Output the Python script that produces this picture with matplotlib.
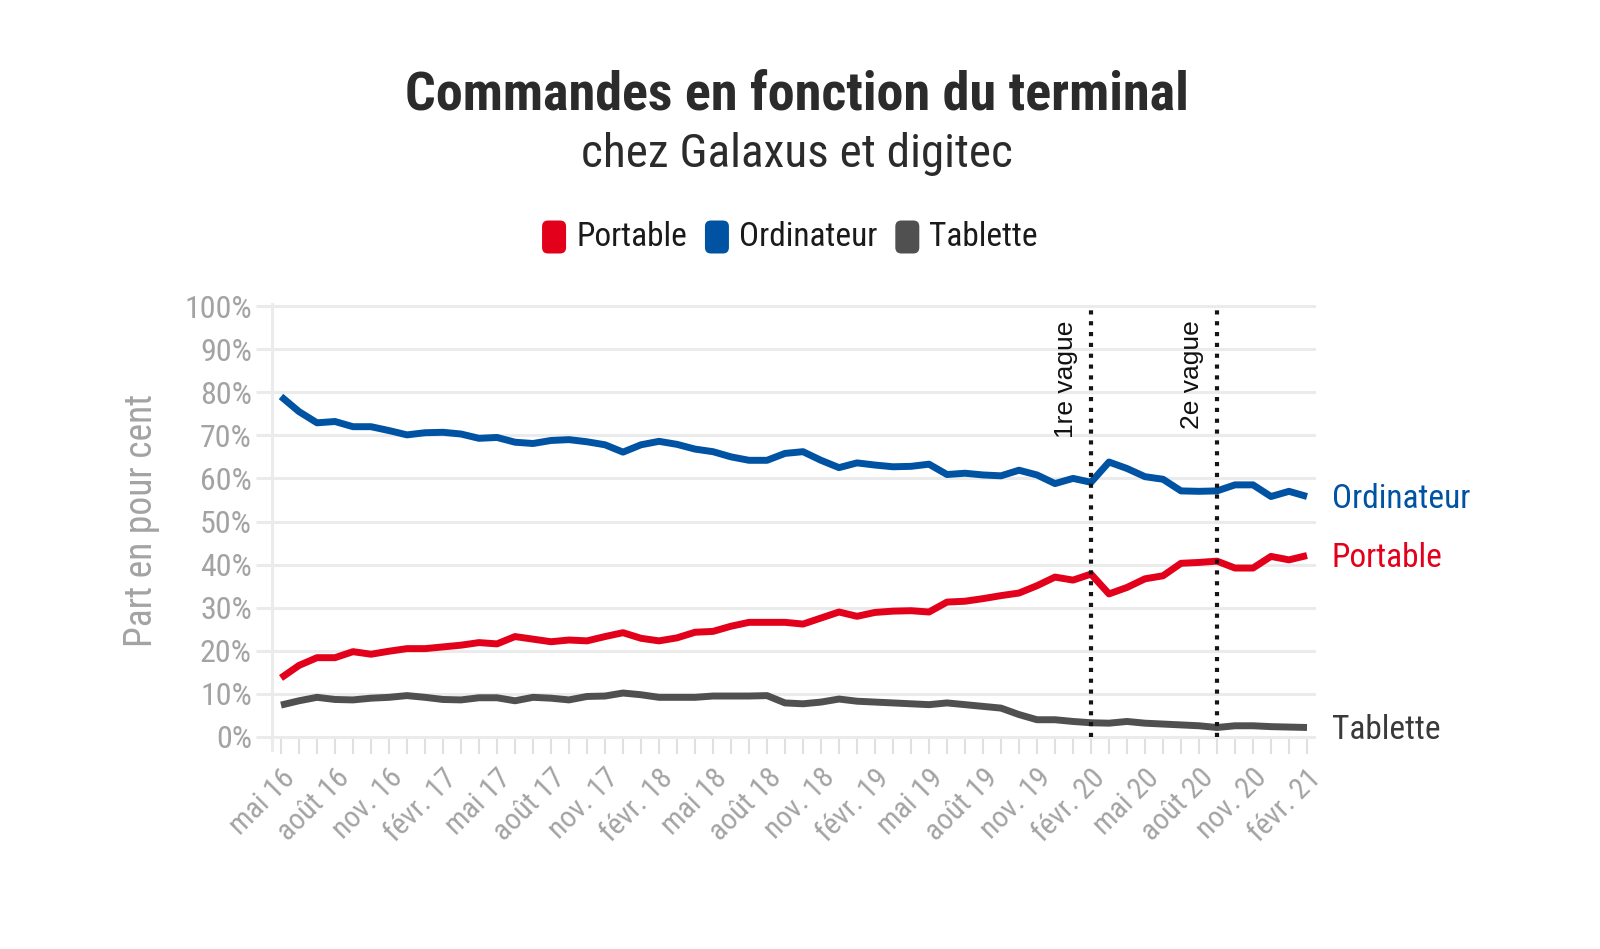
import numpy as np
import matplotlib
matplotlib.use('Agg')
import matplotlib.pyplot as plt
from matplotlib import font_manager
from matplotlib.patches import FancyBboxPatch
from matplotlib.transforms import IdentityTransform

# parts mensuelles (mai 2016 -> février 2021), en %
portable = [13.7, 16.6, 18.4, 18.4, 19.8, 19.2, 19.9, 20.5, 20.5, 20.9,
            21.3, 21.9, 21.6, 23.3, 22.7, 22.1, 22.5, 22.3, 23.3, 24.2,
            22.9, 22.3, 23.0, 24.3, 24.5, 25.7, 26.6, 26.6, 26.6, 26.2,
            27.6, 29.0, 28.0, 28.9, 29.2, 29.3, 29.0, 31.3, 31.5, 32.1,
            32.8, 33.4, 35.1, 37.1, 36.4, 37.8, 33.2, 34.7, 36.7, 37.4,
            40.3, 40.5, 40.8, 39.2, 39.2, 41.9, 41.1, 42.1]
ordinateur = [79.0, 75.5, 72.9, 73.2, 72.0, 72.0, 71.1, 70.1, 70.6, 70.7,
              70.3, 69.3, 69.5, 68.4, 68.1, 68.8, 69.0, 68.5, 67.8, 66.1,
              67.8, 68.6, 67.9, 66.8, 66.2, 65.0, 64.2, 64.2, 65.8, 66.2,
              64.2, 62.5, 63.6, 63.1, 62.7, 62.8, 63.3, 60.9, 61.2, 60.8,
              60.6, 61.9, 60.8, 58.8, 60.0, 59.1, 63.8, 62.3, 60.4, 59.8,
              57.1, 57.0, 57.1, 58.5, 58.5, 55.8, 57.0, 55.8]
tablette = [7.4, 8.4, 9.2, 8.7, 8.6, 9.0, 9.2, 9.6, 9.2, 8.7,
            8.6, 9.1, 9.1, 8.4, 9.2, 9.0, 8.6, 9.4, 9.5, 10.2,
            9.8, 9.2, 9.2, 9.2, 9.5, 9.5, 9.5, 9.6, 7.9, 7.7,
            8.1, 8.8, 8.3, 8.1, 7.9, 7.7, 7.5, 7.9, 7.5, 7.1,
            6.7, 5.2, 4.0, 4.0, 3.6, 3.3, 3.2, 3.6, 3.2, 3.0,
            2.8, 2.6, 2.2, 2.6, 2.6, 2.4, 2.3, 2.2]

etiquettes = ['mai 16', 'août 16', 'nov. 16', 'févr. 17', 'mai 17', 'août 17',
              'nov. 17', 'févr. 18', 'mai 18', 'août 18', 'nov. 18', 'févr. 19',
              'mai 19', 'août 19', 'nov. 19', 'févr. 20', 'mai 20', 'août 20',
              'nov. 20', 'févr. 21']

vagues = [45, 52]
noms_vagues = ['1re vague', '2e vague']

ROUGE = '#e2001a'
BLEU = '#0052a3'
GRIS = '#505050'
GRILLE = '#ebebeb'
TXT_GRIS = '#a3a3a3'

dispo = {f.name for f in font_manager.fontManager.ttflist}


def choisir(*noms):
    for n in noms:
        if n in dispo:
            return n
    return 'DejaVu Sans'


COND = choisir('Roboto Condensed', 'Liberation Sans Narrow', 'Roboto')
ARIAL = choisir('Liberation Sans', 'Arimo', 'DejaVu Sans')
plt.rcParams['font.family'] = [COND, 'DejaVu Sans']

W, H = 1600, 949
fig = plt.figure(figsize=(W / 100, H / 100), dpi=100)
fig.patch.set_facecolor('white')
ax = fig.add_axes([272 / W, 1 - 738.7 / H, (1316 - 272) / W, (738.7 - 304.3) / H])

x = np.arange(len(portable))
series = [(ordinateur, BLEU, 'Ordinateur'),
          (portable, ROUGE, 'Portable'),
          (tablette, GRIS, 'Tablette')]
for vals, col, nom in series:
    ax.plot(x, vals, color=col, lw=5, solid_joinstyle='round',
            solid_capstyle='butt', zorder=3)
    lab_col = '#3a3a3a' if nom == 'Tablette' else col
    ax.annotate(nom, (x[-1], vals[-1]), xytext=(18, -2), textcoords='offset points',
                va='center', ha='left', fontsize=24, color=lab_col,
                annotation_clip=False)

# lignes des vagues
for v, nom in zip(vagues, noms_vagues):
    ax.plot([v, v], [0, 100], color='#151515', lw=3, ls=(0, (1, 1.6)), zorder=4)
    ax.text(v - 0.7, 96.7, nom, rotation=90, ha='right', va='top',
            fontsize=19, family=ARIAL, color='#111111')

ax.set_xlim(-0.5, 57.5)
ax.set_ylim(-0.4, 100.4)
ax.set_yticks(np.arange(0, 101, 10))
ax.set_yticklabels([f'{v}%' for v in range(0, 101, 10)])
ax.set_xticks(np.arange(0, len(x), 3))
ax.set_xticks(x, minor=True)
ax.set_xticklabels(etiquettes, rotation=45, ha='right', va='top',
                   rotation_mode='anchor')

ax.grid(axis='y', color=GRILLE, lw=2.2)
ax.set_axisbelow(True)
for s in ['top', 'right', 'bottom']:
    ax.spines[s].set_visible(False)
ax.spines['left'].set_color(GRILLE)
ax.spines['left'].set_linewidth(2.2)
ax.plot([-0.5, -0.5], [-3, 0], color=GRILLE, lw=2.2, clip_on=False)

ax.tick_params(axis='y', length=11.5, width=2.2, color=GRILLE,
               labelcolor=TXT_GRIS, labelsize=23, pad=3)
ax.tick_params(axis='x', which='both', length=11, width=1.5, color='#e0e0e0',
               labelcolor=TXT_GRIS, labelsize=21.5, pad=7)

fig.text(141 / W, 1 - 520 / H, 'Part en pour cent', rotation=90,
         ha='center', va='center', fontsize=27, color=TXT_GRIS)

# titres
fig.text(797 / W, 1 - 110 / H, 'Commandes en fonction du terminal',
         ha='center', va='baseline', fontsize=39, fontweight='bold', color='#2b2b2b')
fig.text(797 / W, 1 - 167 / H, 'chez Galaxus et digitec',
         ha='center', va='baseline', fontsize=34, color='#2b2b2b')

# légende faite à la main (carrés arrondis)
renderer = fig.canvas.get_renderer()
leg = [('Portable', ROUGE), ('Ordinateur', BLEU), ('Tablette', GRIS)]
textes = []
largeur = 0
for nom, col in leg:
    t = fig.text(0, 0, nom, fontsize=24, color='#1a1a1a', va='center', ha='left')
    w = t.get_window_extent(renderer).width
    textes.append((t, w, col))
    largeur += 24 + 10 + w
largeur += 18 * (len(leg) - 1)
xc = 790 - largeur / 2
yc = H - 237
for t, w, col in textes:
    fig.add_artist(FancyBboxPatch((xc, yc - 16.5), 24, 33,
                                  boxstyle='round,pad=0,rounding_size=6',
                                  fc=col, ec='none', transform=IdentityTransform()))
    t.set_position(((xc + 34) / W, yc / H))
    xc += 34 + w + 18

fig.savefig('out.png', dpi=100, facecolor='white')
